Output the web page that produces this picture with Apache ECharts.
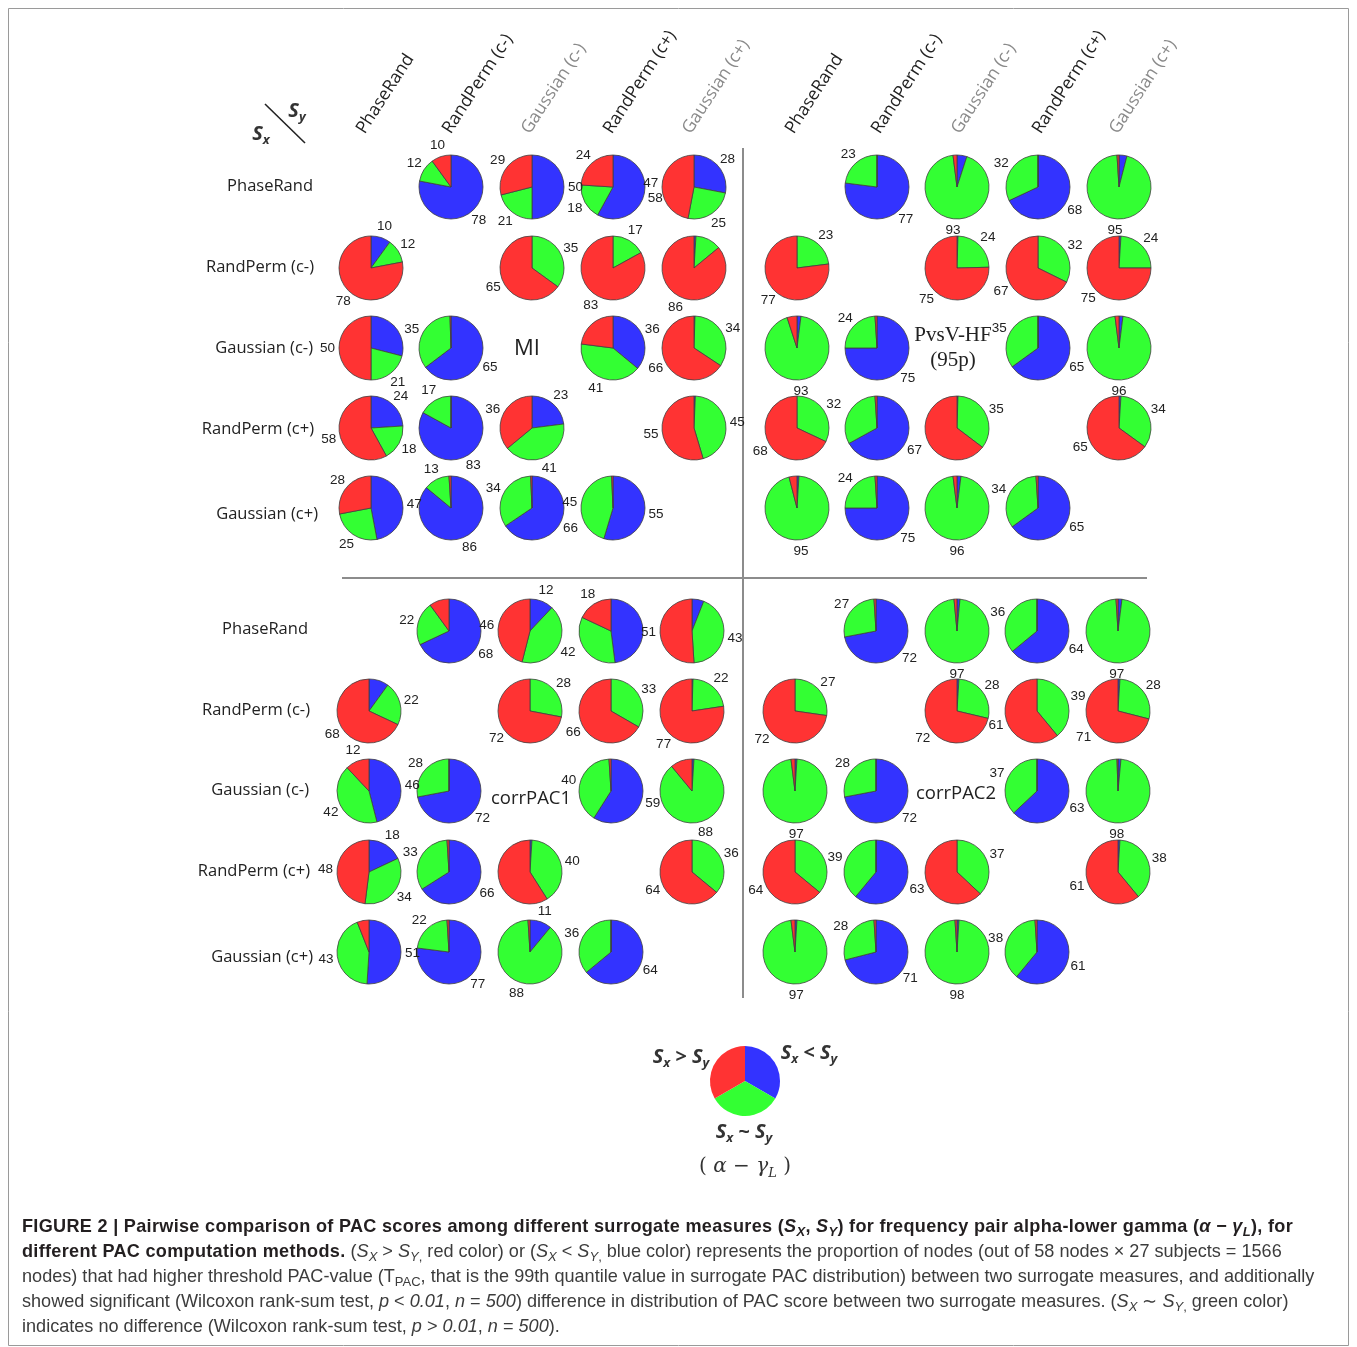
<!DOCTYPE html>
<html><head><meta charset="utf-8">
<script src="https://cdn.jsdelivr.net/npm/echarts@6/dist/echarts.min.js"></script>
<style>
html,body{margin:0;padding:0;background:#fff;}
#chart{position:absolute;left:0;top:0;width:1357px;height:1347px;}
#caption{position:absolute;left:22px;top:1214px;font-family:'Liberation Sans Narrow','Arial Narrow','Liberation Sans',sans-serif;font-size:18.1px;line-height:25px;color:#3c3c3c;white-space:nowrap;}
#caption b{color:#231f20;letter-spacing:0.3px;}
#caption sub{font-size:0.72em;line-height:0;vertical-align:-0.3em;}
</style></head><body>
<div id="chart"></div>
<div id="caption"><b>FIGURE 2 | Pairwise comparison of PAC scores among different surrogate measures (<i>S<sub>X</sub></i>, <i>S<sub>Y</sub></i>) for frequency pair alpha-lower gamma (<i>α</i> − <i>γ<sub>L</sub></i>), for</b><br><b>different PAC computation methods.</b> (<i>S<sub>X</sub></i> &gt; <i>S<sub>Y</sub></i><sub>,</sub> red color) or (<i>S<sub>X</sub></i> &lt; <i>S<sub>Y</sub></i><sub>,</sub> blue color) represents the proportion of nodes (out of 58 nodes × 27 subjects = 1566<br>nodes) that had higher threshold PAC-value (T<sub>PAC</sub>, that is the 99th quantile value in surrogate PAC distribution) between two surrogate measures, and additionally<br>showed significant (Wilcoxon rank-sum test, <i>p</i> &lt; <i>0.01</i>, <i>n</i> = <i>500</i>) difference in distribution of PAC score between two surrogate measures. (<i>S<sub>X</sub></i> ∼ <i>S<sub>Y</sub></i><sub>,</sub> green color)<br>indicates no difference (Wilcoxon rank-sum test, <i>p</i> &gt; <i>0.01</i>, <i>n</i> = <i>500</i>).</div>
<script>
// ---------------- DATA ----------------
const SURROGATES = ['PhaseRand', 'RandPerm (c-)', 'Gaussian (c-)', 'RandPerm (c+)', 'Gaussian (c+)'];
const SLICE_NAMES = ['Sx < Sy', 'Sx ~ Sy', 'Sx > Sy'];   // blue, green, red (clockwise from 12 o'clock)
// rows = Sx, cols = Sy ; each cell [blue, green, red] in % ; null = diagonal
const MI = [
  [null, [78, 12, 10], [50, 21, 29], [58, 18, 24], [28, 25, 47]],
  [[10, 12, 78], null, [0, 35, 65], [0, 17, 83], [1, 13, 86]],
  [[29, 21, 50], [65, 35, 0.5], null, [36, 41, 23], [0.5, 34, 66]],
  [[24, 18, 58], [83, 17, 0], [23, 41, 36], null, [0.7, 45, 55]],
  [[47, 25, 28], [86, 13, 1], [66, 34, 0.7], [55, 45, 0.7], null]
];
const PVSV_HF = [
  [null, [77, 23, 0], [5, 93, 2], [68, 32, 0], [4, 95, 1]],
  [[0, 23, 77], null, [0.5, 24, 75], [0, 32, 67], [1, 24, 75]],
  [[2, 93, 5], [75, 24, 1], null, [65, 35, 0], [2, 96, 2]],
  [[0, 32, 68], [67, 32, 1], [0.5, 35, 65], null, [1, 34, 65]],
  [[1, 95, 4], [75, 24, 1], [2, 96, 2], [65, 34, 1], null]
];
const CORRPAC1 = [
  [null, [68, 22, 10], [12, 42, 46], [48, 34, 18], [6, 43, 51]],
  [[10, 22, 68], null, [0, 28, 72], [0, 33, 66], [0.5, 22, 77]],
  [[46, 42, 12], [72, 28, 0], null, [59, 40, 1], [1, 88, 11]],
  [[18, 34, 48], [66, 33, 1], [1, 40, 59], null, [0, 36, 64]],
  [[51, 43, 6], [77, 22, 1], [11, 88, 1], [64, 36, 0], null]
];
const CORRPAC2 = [
  [null, [72, 27, 1], [1.5, 97, 1.5], [64, 36, 0], [2, 97, 1]],
  [[0, 27, 72], null, [1, 28, 72], [0, 39, 61], [1, 28, 71]],
  [[1, 97, 2], [72, 28, 0], null, [63, 37, 0], [1.5, 98, 0.5]],
  [[0, 36, 64], [61, 39, 0], [0, 37, 63], null, [1, 38, 61]],
  [[1, 97, 2], [71, 28, 1], [1, 98, 1], [61, 38, 1], null]
];
const LEGEND_VALUES = [1, 1, 1];

// ---------------- LAYOUT / STYLE ----------------
const COLORS = ['#3333ff', '#33ff33', '#ff3333'];
const R = 32;
const QUADS = [
  { data: MI,       xs: [371, 451, 532, 613, 694],  ys: [187, 268, 348, 428, 508], labelMin: 10 },
  { data: PVSV_HF,  xs: [797, 877, 957, 1038, 1119], ys: [187, 268, 348, 428, 508], labelMin: 10 },
  { data: CORRPAC1, xs: [369, 449, 530, 611, 692],  ys: [631, 711, 791, 872, 952], labelMin: 11 },
  { data: CORRPAC2, xs: [795, 876, 957, 1037, 1118], ys: [631, 711, 791, 872, 952], labelMin: 10 }
];

const series = [];
QUADS.forEach(q => {
  q.data.forEach((row, r) => {
    row.forEach((cell, c) => {
      if (!cell) return;
      const center = [q.xs[c], q.ys[r]];
      const items = cell.map((v, i) => ({ value: v, name: SLICE_NAMES[i], itemStyle: { color: COLORS[i] } }));
      series.push({
        type: 'pie', silent: true, animation: false, center, radius: R,
        startAngle: 90, clockwise: true,
        label: { show: false }, labelLine: { show: false },
        itemStyle: { borderColor: '#404040', borderWidth: 0.8 },
        emphasis: { disabled: true },
        data: items
      });
      series.push({
        type: 'pie', silent: true, animation: false, center, radius: [R, R + 17],
        startAngle: 90, clockwise: true,
        labelLine: { show: false },
        itemStyle: { color: 'rgba(0,0,0,0)', borderWidth: 0 },
        emphasis: { disabled: true },
        label: {
          show: true, position: 'inside', color: '#222',
          fontFamily: 'Liberation Sans, Arial, sans-serif', fontSize: 13.5,
          formatter: p => (p.value >= q.labelMin ? String(p.value) : '')
        },
        data: cell.map((v, i) => ({ value: v, name: SLICE_NAMES[i] }))
      });
    });
  });
});

// legend pie
series.push({
  type: 'pie', silent: true, animation: false, center: [745, 1081], radius: 35,
  startAngle: 90, clockwise: true, label: { show: false }, labelLine: { show: false },
  itemStyle: { borderWidth: 0 }, emphasis: { disabled: true },
  data: LEGEND_VALUES.map((v, i) => ({ value: v, name: SLICE_NAMES[i], itemStyle: { color: COLORS[i] } }))
});

// ---------------- TEXT / GRAPHICS ----------------
const els = [];
const FONT = '"Open Sans", "Noto Sans", sans-serif';
function txt(x, y, text, opt) {
  els.push(Object.assign({ type: 'text', x, y, silent: true,
    style: Object.assign({ text, fill: '#222', font: '16.5px ' + FONT, align: 'left', verticalAlign: 'middle' }, opt && opt.style) },
    opt && opt.rotation !== undefined ? { rotation: opt.rotation } : {}));
}
// frame
els.push({ type: 'rect', silent: true, shape: { x: 8.5, y: 8.5, width: 1340, height: 1337 }, style: { fill: 'none', stroke: '#9a9a9a', lineWidth: 1 } });
// dividers
els.push({ type: 'line', silent: true, shape: { x1: 743, y1: 148, x2: 743, y2: 998 }, style: { stroke: '#8c8c8c', lineWidth: 2 } });
els.push({ type: 'line', silent: true, shape: { x1: 342, y1: 578, x2: 1147, y2: 578 }, style: { stroke: '#8c8c8c', lineWidth: 2 } });

// row labels
const ROW_TOP = { xr: [313, 314, 313, 314, 318], ys: [186, 267, 348, 429, 514] };
const ROW_BOT = { xr: [308, 310, 309, 310, 313], ys: [629, 710, 790, 871, 957] };
[ROW_TOP, ROW_BOT].forEach(g => SURROGATES.forEach((s, i) => txt(g.xr[i], g.ys[i], s, { style: { align: 'right' } })));

// column headers (rotated)
const HEAD_X = [368, 454, 533, 615, 694, 797, 883, 963, 1044, 1121];
const ang = 57 * Math.PI / 180;
HEAD_X.forEach((x, i) => {
  const s = SURROGATES[i % 5];
  txt(x, 137, s, { rotation: ang, style: { align: 'left', verticalAlign: 'bottom', font: '17.5px ' + FONT, fill: s.startsWith('Gaussian') ? '#8a8a8a' : '#222' } });
});

// Sx / Sy corner
const SUBFONT_B = 'italic bold 13px ' + FONT;
const BIGFONT_B = 'italic bold 20px ' + FONT;
function subLabel(x, y, parts, align) {
  let text = parts.map(p => '{' + p[0] + '|' + p[1] + '}').join('');
  els.push({ type: 'text', x, y, silent: true, style: {
    text, align: align || 'center', verticalAlign: 'middle',
    rich: {
      b: { font: BIGFONT_B, fill: '#333', lineHeight: 26, verticalAlign: 'middle' },
      s: { font: SUBFONT_B, fill: '#333', lineHeight: 26, verticalAlign: 'bottom' }
    }
  }});
}
subLabel(261, 134, [['b', 'S'], ['s', 'x']]);
subLabel(297, 111, [['b', 'S'], ['s', 'y']]);
els.push({ type: 'line', silent: true, shape: { x1: 265, y1: 104, x2: 305, y2: 143 }, style: { stroke: '#222', lineWidth: 1.6 } });

// diagonal method labels
txt(527, 349, 'MI', { style: { align: 'center', font: '22px ' + FONT } });
txt(953, 335, 'PvsV-HF', { style: { align: 'center', font: '21px "Liberation Serif", "DejaVu Serif", serif' } });
txt(953, 360, '(95p)', { style: { align: 'center', font: '21px "Liberation Serif", "DejaVu Serif", serif' } });
txt(531, 799, 'corrPAC1', { style: { align: 'center', font: '18.5px ' + FONT } });
txt(956, 794, 'corrPAC2', { style: { align: 'center', font: '18.5px ' + FONT } });

// legend labels
subLabel(681, 1057, [['b', 'S'], ['s', 'x'], ['b', ' > S'], ['s', 'y']]);
subLabel(809, 1053, [['b', 'S'], ['s', 'x'], ['b', ' < S'], ['s', 'y']]);
subLabel(744, 1132, [['b', 'S'], ['s', 'x'], ['b', ' ~ S'], ['s', 'y']]);
els.push({ type: 'text', x: 745, y: 1167, silent: true, style: {
  text: '{n|( }{i|α}{n| − }{i|γ}{l|L}{n| )}', align: 'center', verticalAlign: 'middle',
  rich: {
    n: { font: '20px "DejaVu Serif", serif', fill: '#333', lineHeight: 26 },
    i: { font: 'italic 20px "DejaVu Serif", serif', fill: '#333', lineHeight: 26 },
    l: { font: 'italic 13px "DejaVu Serif", serif', fill: '#333', lineHeight: 26, verticalAlign: 'bottom' }
  }
}});

const chart = echarts.init(document.getElementById('chart'), null, { renderer: 'canvas' });
chart.setOption({ animation: false, series, graphic: { elements: els } });
</script>
</body></html>
